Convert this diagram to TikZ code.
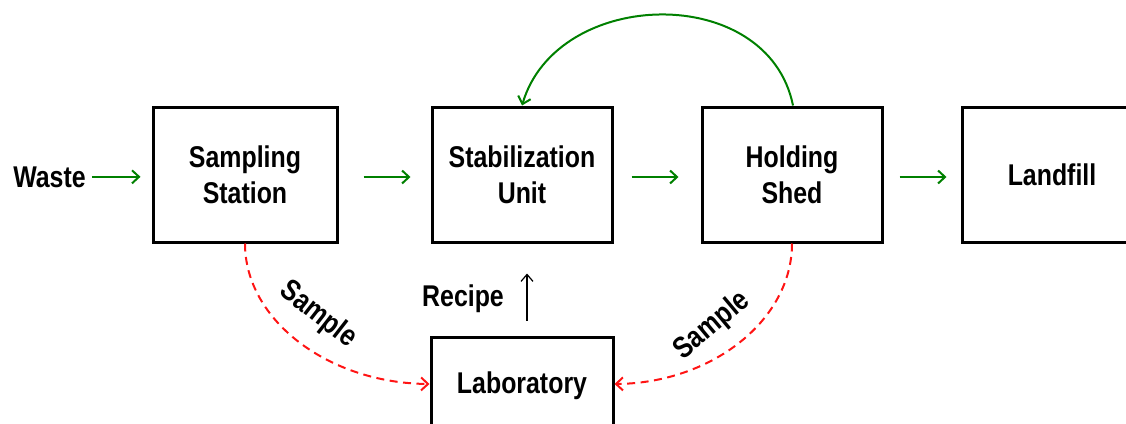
\documentclass[tikz,border=0pt]{standalone}
\usepackage{fontspec}
\setmainfont{Liberation Sans}
\newfontfamily\lblfont[FakeStretch=0.83]{Liberation Sans}
\usetikzlibrary{arrows.meta,calc}
\definecolor{flowgreen}{RGB}{0,128,0}
\definecolor{samplered}{RGB}{255,20,20}
\begin{document}
\begin{tikzpicture}[x=1pt,y=-1pt,
  lbl/.style={font=\lblfont\fontsize{30}{36}\selectfont\bfseries, inner sep=0pt},
  box/.style={lbl, draw=black, line width=3pt, align=center, minimum width=182pt, minimum height=135pt},
  flow/.style={draw=flowgreen, line width=2pt, -{Straight Barb[length=7pt,width=13pt,line width=2pt]}},
  samp/.style={draw=samplered, line width=2pt, dash pattern=on 8pt off 5.5pt, -{Straight Barb[length=7pt,width=13pt,line width=2pt]}},
  recipe/.style={draw=black, line width=1.2pt, -{Straight Barb[length=7pt,width=12pt,line width=1.2pt]}}]
\useasboundingbox (0,0) rectangle (1126,423);
\node[lbl, anchor=base] (waste) at (49.5,187) {Waste};
\node[box, minimum width=184pt] (samp) at (245,174.5) {Sampling\\Station};
\node[box, minimum width=180pt] (stab) at (522,174.5) {Stabilization\\Unit};
\node[box, minimum width=180pt] (hold) at (792,174.5) {Holding\\Shed};
\node[box, minimum width=180pt] (land) at (1052,174.5) {Landfill};
\node[box, minimum height=98pt] (lab) at (522,386) {Laboratory};
\node[lbl, anchor=base] (recipe) at (463,306) {Recipe};
% green flow
\draw[flow, shorten <=6pt, shorten >=11pt] (waste.east) -- (waste.east -| samp.west);
\draw[flow, shorten <=25pt, shorten >=20pt] ([yshift=-2.5pt]samp.east) -- ([yshift=-2.5pt]stab.west);
\draw[flow, shorten <=18pt, shorten >=22pt] ([yshift=-2.5pt]stab.east) -- ([yshift=-2.5pt]hold.west);
\draw[flow, shorten <=16pt, shorten >=14pt] ([yshift=-2.5pt]hold.east) -- ([yshift=-2.5pt]land.west);
\draw[flow] ([xshift=1pt]hold.north) .. controls (768,-18) and (557,-13) .. (stab.north);
% samples
\draw[samp] (samp.south) .. controls (245,320) and (328,383) .. ([yshift=2pt]lab.west);
\node[lbl, rotate=-38] (sample1) at (318,315) {Sample};
\draw[samp] (hold.south) .. controls (792,320) and (712,383) .. ([yshift=2pt]lab.east);
\node[lbl, rotate=40] (sample2) at (712,326) {Sample};
% recipe
\draw[recipe, shorten <=15pt, shorten >=30pt] ([xshift=5pt]lab.north) -- ([xshift=5pt]stab.south);
\end{tikzpicture}
\end{document}
